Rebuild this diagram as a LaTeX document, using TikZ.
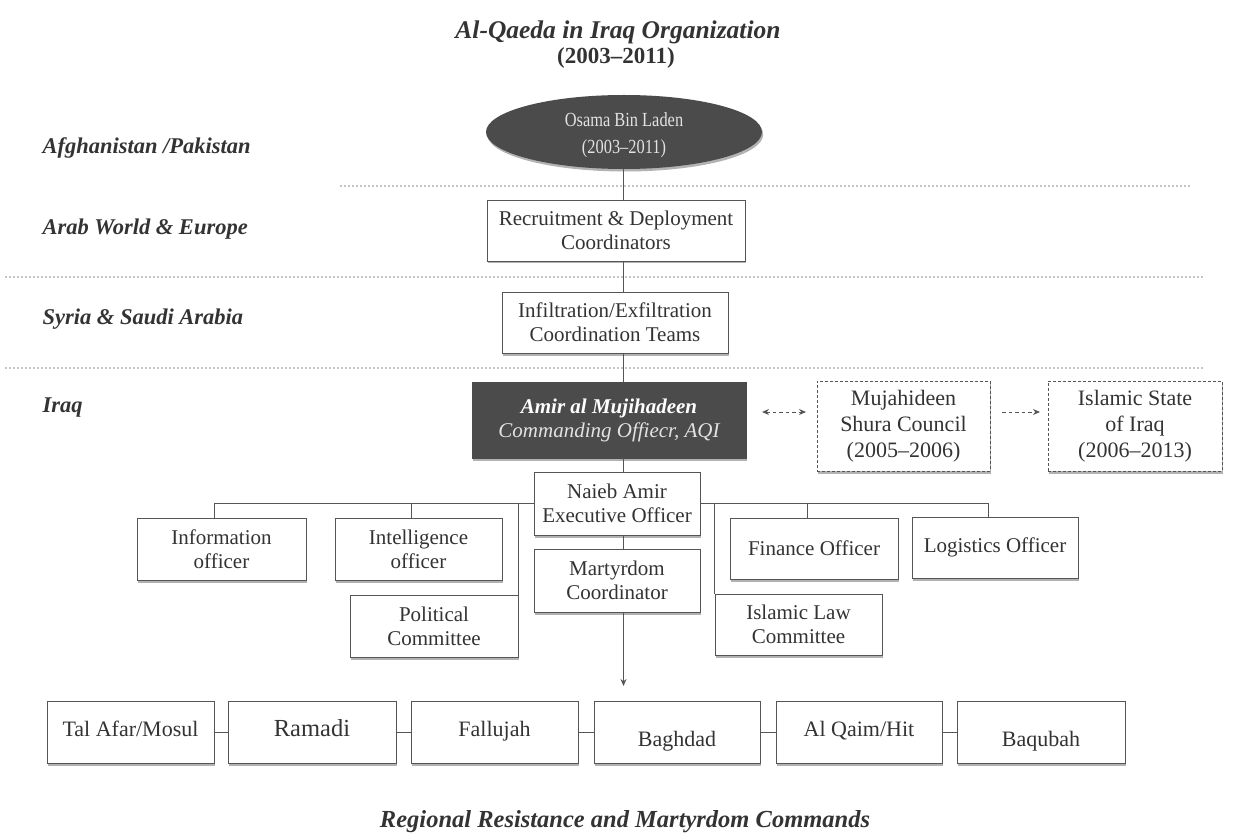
\documentclass[tikz,border=0pt]{standalone}
\usepackage{fontspec}
\setmainfont{Liberation Serif}
\newfontfamily\condfont[Ligatures=TeX,FakeStretch=0.82]{Liberation Serif}
\usetikzlibrary{shapes.geometric,arrows.meta,shadows}
\definecolor{darkfill}{HTML}{4B4B4B}
\definecolor{linegray}{HTML}{555555}
\definecolor{textgray}{HTML}{333333}
\definecolor{dotgray}{HTML}{C4C4C4}
\definecolor{lighttext}{HTML}{E2E2E2}
\begin{document}
\begin{tikzpicture}[x=1pt,y=-1pt,
  shad/.style={drop shadow={shadow xshift=1.2pt,shadow yshift=-2.5pt,opacity=0.30,fill=black}},
  box/.style={draw=linegray,line width=0.9pt,fill=white,align=center,inner sep=2pt,
    text=textgray,font=\fontsize{21}{24}\selectfont,shad},
  cbox/.style={box,minimum height=62,font=\fontsize{22}{26}\selectfont,text height=14,text depth=5},
  lowtext/.style={text height=34,text depth=5},
  dbox/.style={draw=linegray,dashed,dash pattern=on 3pt off 2pt,line width=0.9pt,fill=white,
    align=center,inner sep=2pt,text=textgray,font=\fontsize{22}{26}\selectfont,shad},
  conn/.style={draw=linegray,line width=0.9pt},
  darr/.style={draw=linegray,line width=1pt,dash pattern=on 3.5pt off 3pt},
  sep/.style={draw=dotgray,line width=1.3pt,dash pattern=on 1.5pt off 2.5pt},
  region/.style={anchor=west,text=textgray,font=\fontsize{22.5}{24}\selectfont\bfseries\itshape}]
\useasboundingbox (0,0) rectangle (1242,834);

% titles
\node[text=textgray,font=\fontsize{25.5}{28}\selectfont\bfseries\itshape] (title) at (618,32) {Al-Qaeda in Iraq Organization};
\node[text=textgray,font=\fontsize{23}{26}\selectfont\bfseries] (years) at (616,58) {(2003--2011)};
\node[text=textgray,font=\fontsize{24.5}{28}\selectfont\bfseries\itshape] (btitle) at (625,822) {Regional Resistance and Martyrdom Commands};

% separators
\draw[sep] (340,186) -- (1190,186);
\draw[sep] (5,277) -- (1205,277);
\draw[sep] (5,368) -- (1205,368);

% region labels
\node[region] (r1) at (39,148) {Afghanistan /Pakistan};
\node[region] (r2) at (39,229) {Arab World \& Europe};
\node[region] (r3) at (39,319) {Syria \& Saudi Arabia};
\node[region] (r4) at (39,408) {Iraq};

% main chain
\node[ellipse,fill=darkfill,minimum width=276,minimum height=74,inner sep=0pt,shad] (ell) at (624,132) {};
\node[align=center,text=lighttext,font=\condfont\fontsize{20}{27}\selectfont] (ellt) at (624,135) {Osama Bin Laden\\(2003--2011)};
\node[box,minimum width=258,minimum height=61] (rec) at (616,230.5) {Recruitment \& Deployment\\Coordinators};
\node[box,minimum width=226,minimum height=61] (inf) at (615,322.5) {Infiltration/Exfiltration\\Coordination Teams};
\node[box,fill=darkfill,draw=darkfill,minimum width=274,minimum height=76] (amir) at (609,420)
  {\textcolor{white}{\bfseries\itshape Amir al Mujihadeen}\\\textcolor{lighttext}{\itshape Commanding Offiecr, AQI}};
\node[box,minimum width=166,minimum height=63] (nai) at (617,503.5) {Naieb Amir\\Executive Officer};
\node[box,minimum width=166,minimum height=63] (mar) at (617,580.5) {Martyrdom\\Coordinator};

% dashed boxes
\node[dbox,minimum width=173,minimum height=90] (msc) at (903.5,426) {Mujahideen\\Shura Council\\(2005--2006)};
\node[dbox,minimum width=174,minimum height=90] (isi) at (1135,426) {Islamic State\\of Iraq\\(2006--2013)};
\coordinate (da1) at (762,412);
\coordinate (da2) at (806,412);
\coordinate (db1) at (1002,412);
\coordinate (db2) at (1040,412);
\draw[darr,{Stealth[length=7pt,width=6pt]}-{Stealth[length=7pt,width=6pt]}] (da1) -- (da2);
\draw[darr,-{Stealth[length=7pt,width=6pt]}] (db1) -- (db2);

% staff boxes
\node[box,minimum width=169,minimum height=62] (info) at (221.5,549) {Information\\officer};
\node[box,minimum width=167,minimum height=62] (intel) at (418.5,549) {Intelligence\\officer};
\node[box,minimum width=168,minimum height=62] (pol) at (434,626) {Political\\Committee};
\node[box,minimum width=168,minimum height=61] (fin) at (814,548.5) {Finance Officer};
\node[box,minimum width=166,minimum height=61] (log) at (995,547.5) {Logistics Officer};
\node[box,minimum width=167,minimum height=61] (isl) at (798.5,624.5) {Islamic Law\\Committee};

% regional commands
\node[cbox,minimum width=167] (tal) at (130.5,732) {Tal Afar/Mosul};
\node[cbox,minimum width=168,font=\fontsize{24.5}{28}\selectfont] (ram) at (312,732) {Ramadi};
\node[cbox,minimum width=167] (fal) at (494.5,732) {Fallujah};
\node[cbox,lowtext,minimum width=166] (bag) at (677,732) {Baghdad};
\node[cbox,minimum width=166] (alq) at (859,732) {Al Qaim/Hit};
\node[cbox,lowtext,minimum width=168] (baq) at (1041,732) {Baqubah};

% main vertical connectors
\coordinate (vx) at (623.5,0);
\draw[conn] (ell.south -| vx) -- (rec.north -| vx);
\draw[conn] (rec.south -| vx) -- (inf.north -| vx);
\draw[conn] (inf.south -| vx) -- (amir.north -| vx);
\draw[conn] (amir.south -| vx) -- (nai.north -| vx);
\draw[conn] (nai.south -| vx) -- (mar.north -| vx);
\coordinate (arrend) at (623.5,686);
\draw[conn,-{Stealth[length=7pt,width=6pt]}] (mar.south -| vx) -- (arrend);

% branch line
\coordinate (bl) at (214,503);
\coordinate (bi) at (411,503);
\coordinate (br) at (988,503);
\coordinate (bf) at (807,503);
\draw[conn] (nai.west |- bl) -- (bl) -- (bl |- info.north);
\draw[conn] (bi) -- (bi |- intel.north);
\draw[conn] (pol.north east |- bl) -- (pol.north east);
\draw[conn] (nai.east |- br) -- (br) -- (br |- log.north);
\draw[conn] (bf) -- (bf |- fin.north);
\draw[conn] (isl.north west |- br) -- (isl.north west);

% bottom row connectors
\draw[conn] (tal.east) -- (ram.west);
\draw[conn] (ram.east) -- (fal.west);
\draw[conn] (fal.east) -- (bag.west);
\draw[conn] (bag.east) -- (alq.west);
\draw[conn] (alq.east) -- (baq.west);
\end{tikzpicture}
\end{document}
